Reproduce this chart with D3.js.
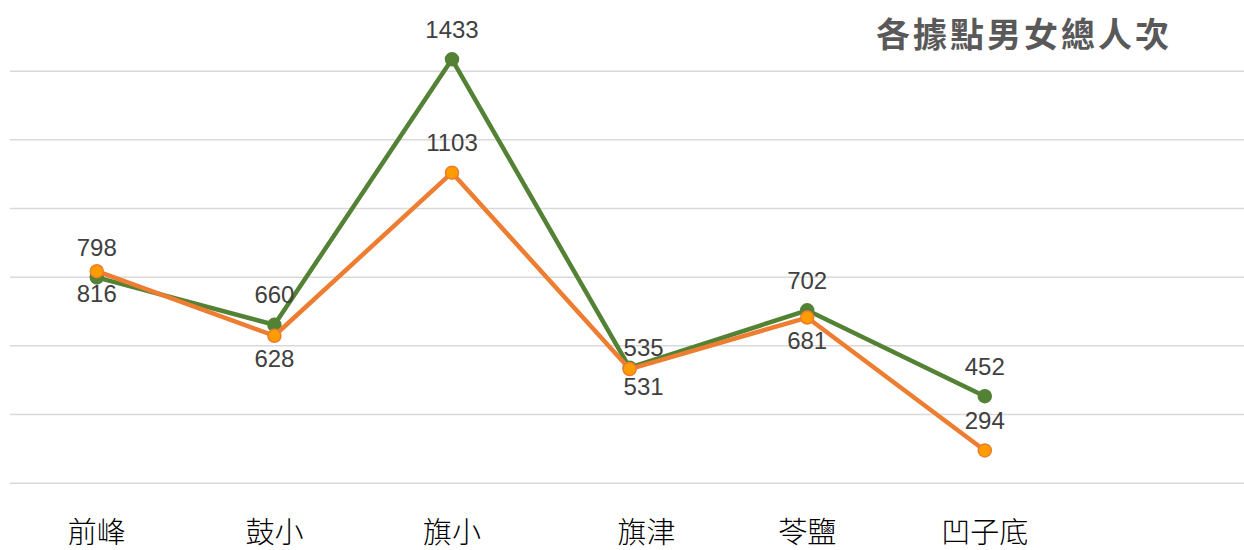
<!DOCTYPE html>
<html><head><meta charset="utf-8">
<script src="https://cdn.jsdelivr.net/npm/d3@7"></script>
<style>
html,body{margin:0;padding:0;background:#fff;}
svg{display:block;}
</style></head>
<body>
<svg id="chart" width="1244" height="550"></svg>
<script>
const categories = ["前峰","鼓小","旗小","旗津","苓鹽","凹子底"];
const greenValues = [798, 660, 1433, 535, 702, 452];
const orangeValues = [816, 628, 1103, 531, 681, 294];
// label placement: true = above point
const greenLabelAbove = [true, true, true, true, true, true];
const orangeLabelAbove = [false, false, true, false, false, true];
const yTicks = [200, 400, 600, 800, 1000, 1200, 1400];
const title = "各據點男女總人次";

const svg = d3.select("#chart");
const W = 1244, H = 550;

const x = d3.scaleBand().domain(categories).range([8, 8 + 6 * 177.6]);
const cx = d => x(d) + x.bandwidth() / 2;
const y = d3.scaleLinear().domain([200, 1400]).range([482.7, 70.7]);

// gridlines
const yAxis = d3.axisLeft(y).tickValues(yTicks).tickSize(-(W - 10)).tickFormat("");
const gAxis = svg.append("g").attr("transform", "translate(10,0)").call(yAxis);
gAxis.select(".domain").remove();
gAxis.selectAll(".tick line").attr("stroke", "#d9d9d9").attr("stroke-width", 1.5);

// title
svg.append("text")
  .attr("x", 876).attr("y", 47)
  .attr("font-family", "'Noto Sans CJK TC', 'Noto Sans CJK SC', sans-serif")
  .attr("font-weight", "bold")
  .attr("font-size", 34)
  .attr("letter-spacing", 3)
  .attr("fill", "#595959")
  .text(title);

// category labels
const xAxis = d3.axisBottom(x).tickSize(0).tickPadding(0);
const gx = svg.append("g").call(xAxis);
gx.select(".domain").remove();
gx.selectAll(".tick text")
  .attr("y", 543).attr("dy", null)
  .attr("dx", d => d === "旗津" ? 17 : 0)
  .attr("font-family", "'Noto Sans CJK TC', sans-serif")
  .attr("font-weight", 300)
  .attr("font-size", 29)
  .attr("fill", "#000");

const line = d3.line().x((d, i) => cx(categories[i])).y(d => y(d));

// manually nudged labels (as in the original chart)
const nudged = i => categories[i] === "旗津";

function drawSeries(vals, color, markerFill, above) {
  svg.append("path").datum(vals)
    .attr("d", line).attr("fill", "none")
    .attr("stroke", color).attr("stroke-width", 4.5)
    .attr("stroke-linejoin", "round");
  svg.append("g").selectAll("circle").data(vals).join("circle")
    .attr("cx", (d, i) => cx(categories[i])).attr("cy", d => y(d))
    .attr("r", 6.5).attr("fill", markerFill).attr("stroke", color).attr("stroke-width", 1.5);
  svg.append("g").selectAll("text").data(vals).join("text")
    .attr("x", (d, i) => cx(categories[i]) + (nudged(i) ? 14 : 0))
    .attr("y", (d, i) => above[i] ? y(d) - (nudged(i) ? 12 : 21.5) : y(d) + (nudged(i) ? 26 : 31))
    .attr("text-anchor", "middle")
    .attr("font-family", "'Liberation Sans', Arial, sans-serif")
    .attr("font-size", 24)
    .attr("fill", "#404040")
    .text(d => d);
}

drawSeries(greenValues, "#548235", "#548235", greenLabelAbove);
drawSeries(orangeValues, "#ed7d31", "#ff9c00", orangeLabelAbove);
</script>
</body></html>
